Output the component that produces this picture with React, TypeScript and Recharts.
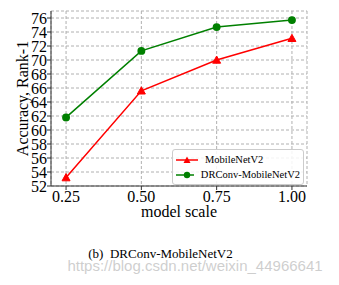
import React from 'react';
import { LineChart, Line, XAxis, YAxis, CartesianGrid } from 'recharts';

const scales = [0.25, 0.5, 0.75, 1.0];
const mobileNetV2 = [53.2, 65.6, 70.0, 73.1];
const drconvMobileNetV2 = [61.8, 71.3, 74.7, 75.7];
const xTicks = [0.25, 0.5, 0.75, 1.0];
const yTicks = [52, 54, 56, 58, 60, 62, 64, 66, 68, 70, 72, 74, 76];
const seriesNames = ['MobileNetV2', 'DRConv-MobileNetV2'];
const seriesColors = ['#ff0000', '#008000'];

const data = scales.map((s, i) => ({ scale: s, a: mobileNetV2[i], b: drconvMobileNetV2[i] }));

const SERIF = '"Liberation Serif", "Times New Roman", serif';

const Triangle = (props: any) => {
  const { cx, cy } = props;
  if (cx == null || cy == null) return null;
  const r = 4;
  return <path d={`M${cx},${cy - r} L${cx + r},${cy + r * 0.8} L${cx - r},${cy + r * 0.8} Z`} fill="#ff0000" stroke="#ff0000" />;
};

const LegendBox = () => (
  <div style={{ position: 'absolute', left: 172, top: 149, width: 132, boxSizing: 'border-box', border: '1px solid #cccccc', borderRadius: 3, background: 'rgba(255,255,255,0.85)', padding: '2px 3px', fontFamily: SERIF, fontSize: 10.5, color: '#000' }}>
    {seriesNames.map((n, i) => (
      <div key={n} style={{ display: 'flex', alignItems: 'center', height: 15 }}>
        <svg width={22} height={10} style={{ marginRight: 7 }}>
          <line x1={0} y1={5} x2={22} y2={5} stroke={seriesColors[i]} strokeWidth={1.5} />
          {i === 0 ? (
            <path d="M11,1.5 L14.5,8 L7.5,8 Z" fill={seriesColors[i]} />
          ) : (
            <circle cx={11} cy={5} r={3.2} fill={seriesColors[i]} />
          )}
        </svg>
        <span style={{ whiteSpace: 'nowrap' }}>{n}</span>
      </div>
    ))}
  </div>
);

export default function App() {
  return (
    <div style={{ position: 'absolute', left: 0, top: 0, width: 339, height: 285, background: '#fff' }}>
      <LineChart width={339} height={285} data={data} margin={{ top: 11, right: 32, bottom: 69, left: 0 }}>
        <CartesianGrid stroke="#b0b0b0" strokeDasharray="3 2" />
        <XAxis
          dataKey="scale"
          type="number"
          domain={[0.2, 1.05]}
          ticks={xTicks}
          tickFormatter={(v: number) => v.toFixed(2)}
          height={30}
          stroke="#333"
          tickSize={4}
          tickMargin={1}
          tick={{ fill: '#000', fontFamily: SERIF, fontSize: 16 }}
          allowDataOverflow
          label={{
            content: (p: any) => {
              const vb = p.viewBox;
              return (
                <text x={vb.x + vb.width / 2} y={vb.y + 31} textAnchor="middle" fontFamily={SERIF} fontSize={16} fill="#000">
                  model scale
                </text>
              );
            },
          }}
        />
        <XAxis xAxisId="top" orientation="top" dataKey="scale" type="number" domain={[0.2, 1.05]} height={0} tick={false} tickLine={false} stroke="#333" />
        <YAxis
          type="number"
          domain={[52, 77]}
          ticks={yTicks}
          width={51}
          stroke="#333"
          tickSize={4}
          tickMargin={0}
          interval={0}
          tick={{ fill: '#000', fontFamily: SERIF, fontSize: 16 }}
          allowDataOverflow
          label={{
            content: (p: any) => {
              const vb = p.viewBox;
              const x = vb.x + 22;
              const y = vb.y + vb.height / 2;
              return (
                <text x={x} y={y} transform={`rotate(-90 ${x} ${y})`} textAnchor="middle" dominantBaseline="central" fontFamily={SERIF} fontSize={16} fill="#000">
                  Accuracy, Rank-1
                </text>
              );
            },
          }}
        />
        <YAxis yAxisId="right" orientation="right" domain={[52, 77]} width={0} tick={false} tickLine={false} stroke="#333" />
        <Line
          dataKey="a"
          name={seriesNames[0]}
          stroke={seriesColors[0]}
          strokeWidth={1.5}
          dot={<Triangle />}
          isAnimationActive={false}
        />
        <Line
          dataKey="b"
          name={seriesNames[1]}
          stroke={seriesColors[1]}
          strokeWidth={1.5}
          dot={{ r: 3.2, fill: seriesColors[1], stroke: seriesColors[1] }}
          isAnimationActive={false}
        />
      </LineChart>
      <LegendBox />
      <div style={{ position: 'absolute', left: 0, width: 321, top: 246, textAlign: 'center', fontFamily: SERIF, fontSize: 13, color: '#000', whiteSpace: 'nowrap' }}>
        (b)&nbsp; DRConv-MobileNetV2
      </div>
      <div style={{ position: 'absolute', left: 0, width: 390, top: 257, textAlign: 'center', fontFamily: '"Liberation Sans", Arial, sans-serif', fontSize: 15, color: 'rgba(190,190,190,0.75)', whiteSpace: 'nowrap' }}>
        https://blog.csdn.net/weixin_44966641
      </div>
    </div>
  );
}
